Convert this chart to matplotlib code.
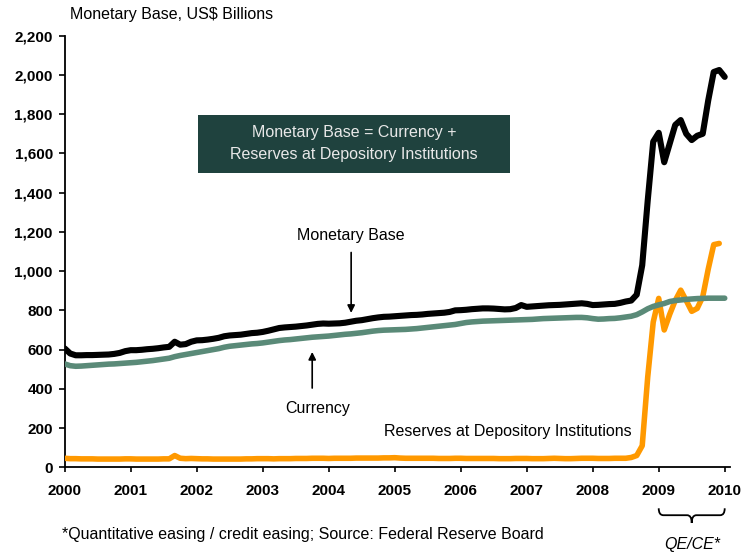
import numpy as np
import matplotlib
matplotlib.use("Agg")
import matplotlib.pyplot as plt
from matplotlib.patches import Rectangle, PathPatch
from matplotlib.path import Path
import matplotlib.transforms as mtransforms

plt.rcParams['font.family'] = ['Liberation Sans', 'DejaVu Sans']

# monthly values, US$ billions, Jan 2000 onwards
monetary_base = [
    606, 580, 571, 571, 572, 572, 573, 574, 575, 578, 583, 592,      # 2000
    597, 597, 599, 602, 604, 607, 611, 614, 640, 625, 628, 640,      # 2001
    647, 648, 651, 655, 660, 668, 672, 674, 676, 680, 684, 686,      # 2002
    690, 696, 703, 710, 713, 715, 717, 720, 723, 727, 731, 733,      # 2003
    732, 733, 734, 737, 742, 747, 750, 755, 760, 764, 767, 768,      # 2004
    770, 772, 774, 776, 777, 779, 782, 784, 786, 788, 792, 800,      # 2005
    801, 803, 806, 808, 810, 810, 809, 807, 805, 806, 812, 827,      # 2006
    818, 820, 822, 824, 826, 827, 828, 830, 832, 834, 836, 833,      # 2007
    827, 828, 830, 832, 833, 838, 845, 850, 880, 1030, 1360, 1660,   # 2008
    1705, 1555, 1650, 1745, 1770, 1700, 1668, 1690, 1700, 1870, 2015, 2025,  # 2009
    1990,                                                            # 2010
]

currency = [
    527, 518, 515, 516, 518, 520, 522, 524, 526, 527, 529, 531,
    533, 535, 538, 541, 544, 548, 552, 556, 564, 570, 575, 580,
    585, 590, 595, 600, 605, 612, 617, 620, 623, 626, 629, 631,
    634, 638, 642, 646, 649, 651, 654, 657, 660, 663, 665, 667,
    669, 672, 675, 678, 680, 683, 686, 690, 694, 697, 699, 700,
    701, 702, 703, 705, 707, 710, 713, 716, 719, 722, 725, 728,
    733, 738, 741, 743, 745, 746, 747, 748, 749, 750, 751, 752,
    753, 754, 756, 758, 759, 760, 761, 762, 763, 764, 764, 762,
    758, 755, 756, 758, 759, 762, 766, 770, 778, 792, 808, 820,
    828, 835, 845, 850, 853, 856, 858, 860, 861, 862, 862, 862,
    862,
]

reserves = [
    46, 44, 44, 43, 43, 43, 42, 42, 42, 42, 42, 43,
    43, 42, 42, 42, 42, 42, 43, 43, 60, 46, 44, 45,
    44, 43, 43, 42, 42, 42, 42, 42, 42, 43, 43, 44,
    44, 44, 43, 44, 44, 44, 45, 45, 45, 46, 46, 46,
    45, 46, 46, 46, 46, 47, 47, 47, 47, 47, 48, 48,
    49, 47, 46, 46, 46, 46, 46, 46, 45, 45, 45, 46,
    46, 45, 45, 45, 45, 45, 45, 44, 44, 44, 45, 45,
    45, 44, 44, 44, 45, 46, 45, 44, 44, 45, 46, 46,
    46, 45, 45, 45, 46, 46, 46, 50, 60, 110, 460, 740,
    861, 700, 780, 850, 903, 850, 795, 810, 869, 1010, 1135, 1141,
]

years = np.arange(2000, 2011)
y_ticks = np.arange(0, 2201, 200)

t_base = 2000 + np.arange(len(monetary_base)) / 12
t_cur = 2000 + np.arange(len(currency)) / 12
t_res = 2000 + np.arange(len(reserves)) / 12

BLACK = '#000000'
GREEN = '#5A8A78'
ORANGE = '#FF9900'
BOX = '#1F423E'
FS = 11.5

fig = plt.figure(figsize=(7.46, 5.52), dpi=100)
ax = fig.add_axes([64.7 / 746, 1 - 467.3 / 552, 665.3 / 746, 431.6 / 552])

ax.plot(t_res, reserves, color=ORANGE, lw=4.0, solid_joinstyle='round',
        solid_capstyle='round', zorder=3)
ax.plot(t_cur, currency, color=GREEN, lw=4.0, solid_joinstyle='round',
        solid_capstyle='round', zorder=4)
ax.plot(t_base, monetary_base, color=BLACK, lw=4.4, solid_joinstyle='round',
        solid_capstyle='round', zorder=5)

ax.set_xlim(2000, 2010.08)
ax.set_ylim(0, 2200)
ax.set_xticks(years)
ax.set_xticklabels([str(y) for y in years], fontsize=11, fontweight='bold')
ax.set_yticks(y_ticks)
ax.set_yticklabels([f'{v:,}' for v in y_ticks], fontsize=11, fontweight='bold')
ax.tick_params(axis='x', direction='out', length=3.6, width=1.2, pad=8.5)
ax.tick_params(axis='y', direction='out', length=4.6, width=1.2, pad=4)
for side in ('top', 'right'):
    ax.spines[side].set_visible(False)
for side in ('left', 'bottom'):
    ax.spines[side].set_linewidth(1.3)

# labels and arrows
ax.text(2004.34, 1184, 'Monetary Base', ha='center', va='center', fontsize=FS)
ax.annotate('', xy=(2004.34, 787), xytext=(2004.34, 1095),
            arrowprops=dict(arrowstyle='-|>', color='black', lw=1.2,
                            mutation_scale=11, shrinkA=0, shrinkB=0))
ax.text(2003.84, 302, 'Currency', ha='center', va='center', fontsize=FS)
ax.annotate('', xy=(2003.75, 588), xytext=(2003.75, 404),
            arrowprops=dict(arrowstyle='-|>', color='black', lw=1.2,
                            mutation_scale=11, shrinkA=0, shrinkB=0))
ax.text(2006.71, 180, 'Reserves at Depository Institutions', ha='center',
        va='center', fontsize=FS)

# definition box
ax.add_patch(Rectangle((0.2008, 0.6812), 0.4685, 0.1351, transform=ax.transAxes,
                       facecolor=BOX, edgecolor='none', zorder=6))
ax.text(0.435, 0.7746, 'Monetary Base = Currency +', transform=ax.transAxes,
        ha='center', va='center', color='#E8E8E8', fontsize=FS, zorder=7)
ax.text(0.435, 0.7236, 'Reserves at Depository Institutions', transform=ax.transAxes,
        ha='center', va='center', color='#E8E8E8', fontsize=FS, zorder=7)

# brace under 2009-2010
trans = mtransforms.blended_transform_factory(ax.transData, ax.transAxes)
y0, y1, y2 = -0.095, -0.111, -0.129
verts = [
    (2009.0, y0), (2009.0, y1), (2009.07, y1),
    (2009.43, y1),
    (2009.5, y1), (2009.5, y2),
    (2009.5, y1), (2009.57, y1),
    (2009.93, y1),
    (2010.0, y1), (2010.0, y0),
]
codes = [Path.MOVETO, Path.CURVE3, Path.CURVE3,
         Path.LINETO,
         Path.CURVE3, Path.CURVE3,
         Path.CURVE3, Path.CURVE3,
         Path.LINETO,
         Path.CURVE3, Path.CURVE3]
brace = PathPatch(Path(verts, codes), transform=trans, facecolor='none',
                  edgecolor='black', lw=1.3, clip_on=False)
ax.add_patch(brace)
ax.text(2009.5, -0.18, 'QE/CE*', transform=trans, ha='center', va='center',
        fontsize=FS, style='italic', clip_on=False)

fig.text(70 / 746, 1 - 15 / 552, 'Monetary Base, US$ Billions', ha='left',
         va='center', fontsize=FS)
fig.text(62 / 746, 1 - 535 / 552,
         '*Quantitative easing / credit easing; Source: Federal Reserve Board',
         ha='left', va='center', fontsize=FS)

fig.savefig('out.png', dpi=100)
